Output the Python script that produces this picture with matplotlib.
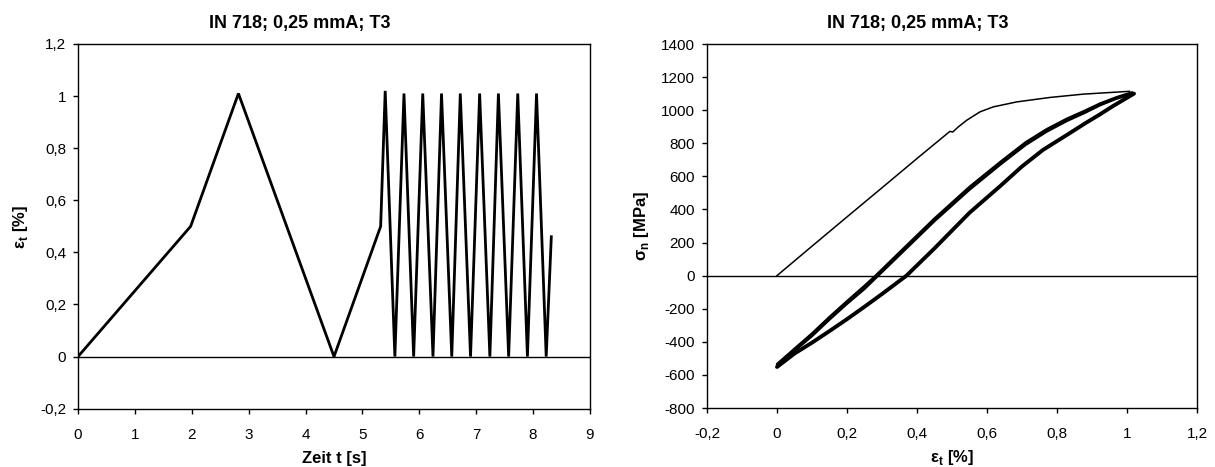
import matplotlib
matplotlib.use("Agg")
import matplotlib.pyplot as plt
from matplotlib.ticker import FuncFormatter

plt.rcParams['font.family'] = ['Liberation Sans', 'DejaVu Sans']
plt.rcParams['mathtext.fontset'] = 'custom'
plt.rcParams['mathtext.bf'] = 'Liberation Sans:bold'
plt.rcParams['mathtext.rm'] = 'Liberation Sans'

# ---------------- data: left chart (strain over time) ----------------
time_s = [0.0, 1.98, 2.82, 4.50, 5.32, 5.40, 5.57, 5.73, 5.90, 6.06, 6.24,
          6.39, 6.57, 6.72, 6.90, 7.06, 7.24, 7.39, 7.57, 7.73, 7.90, 8.06,
          8.23, 8.32]
strain_t = [0.0, 0.50, 1.01, 0.0, 0.50, 1.02, 0.0, 1.01, 0.0, 1.01, 0.0,
            1.01, 0.0, 1.01, 0.0, 1.01, 0.0, 1.01, 0.0, 1.01, 0.0, 1.01,
            0.0, 0.46]

# ---------------- data: right chart (stress-strain) ----------------
load_strain = [0.0, 0.10, 0.20, 0.30, 0.40, 0.494, 0.502, 0.518, 0.542, 0.58,
               0.618, 0.685, 0.78, 0.875, 1.007]
load_stress = [0, 178, 355, 531, 708, 872, 868, 899, 939, 990,
               1020, 1050, 1077, 1097, 1114]

unload_strain = [1.02, 0.96, 0.923, 0.88, 0.828, 0.76, 0.70, 0.637, 0.55,
                 0.45, 0.37, 0.30, 0.25, 0.20, 0.15, 0.10, 0.05, 0.0]
unload_stress = [1100, 1025, 975, 920, 850, 760, 660, 540, 380,
                 165, 0, -111, -188, -263, -335, -405, -471, -552]

reload_strain = [0.0, 0.05, 0.10, 0.15, 0.20, 0.25, 0.289, 0.35, 0.45,
                 0.55, 0.637, 0.71, 0.77, 0.828, 0.88, 0.923, 0.97, 1.02]
reload_stress = [-545, -455, -365, -265, -170, -80, 0, 125, 330,
                 520, 670, 790, 870, 935, 985, 1030, 1070, 1100]

reload2_strain = [0.0, 0.05, 0.10, 0.15, 0.20, 0.25, 0.282, 0.35, 0.45,
                  0.55, 0.637, 0.71, 0.77, 0.828, 0.88, 0.923, 0.97, 1.015]
reload2_stress = [-535, -442, -350, -250, -155, -62, 0, 140, 345,
                  536, 685, 805, 884, 948, 997, 1040, 1078, 1108]

left_xticks = [0, 1, 2, 3, 4, 5, 6, 7, 8, 9]
left_yticks = [-0.2, 0, 0.2, 0.4, 0.6, 0.8, 1.0, 1.2]
right_xticks = [-0.2, 0, 0.2, 0.4, 0.6, 0.8, 1.0, 1.2]
right_yticks = [-800, -600, -400, -200, 0, 200, 400, 600, 800, 1000, 1200, 1400]

title = "IN 718; 0,25 mmA; T3"
left_xlabel = "Zeit t [s]"
left_ylabel = r"ε$_{\mathbf{t}}$ [%]"
right_xlabel = r"ε$_{\mathbf{t}}$ [%]"
right_ylabel = r"σ$_{\mathbf{n}}$ [MPa]"


def comma(v, pos):
    if abs(v - round(v)) < 1e-9:
        s = "%d" % round(v)
    else:
        s = ("%.1f" % v)
    if s in ("-0", "-0.0"):
        s = "0"
    return s.replace('.', ',')


W, H = 1215, 467
fig = plt.figure(figsize=(W / 100, H / 100), dpi=100)


def px_axes(l, t, r, b):
    return fig.add_axes([l / W, 1 - b / H, (r - l) / W, (b - t) / H])


ax1 = px_axes(78, 44, 590, 408.7)
ax2 = px_axes(707, 44, 1197, 408)

for ax in (ax1, ax2):
    for sp in ax.spines.values():
        sp.set_linewidth(1.0)
        sp.set_color('black')
    ax.tick_params(direction='out', length=3.6, width=1, labelsize=11,
                   colors='black')
    ax.tick_params(axis='x', pad=10)
    ax.tick_params(axis='y', pad=5)
    ax.xaxis.set_major_formatter(FuncFormatter(comma))
    ax.yaxis.set_major_formatter(FuncFormatter(comma))
    ax.axhline(0, color='black', lw=1.0, zorder=1)

# titles and axis labels at measured pixel positions
fig.text(300 / W, 1 - 28 / H, title, ha='center', va='baseline',
         fontsize=13, fontweight='bold')
fig.text(918 / W, 1 - 28 / H, title, ha='center', va='baseline',
         fontsize=13, fontweight='bold')
fig.text(334 / W, 1 - 463 / H, left_xlabel, ha='center', va='baseline',
         fontsize=12, fontweight='bold')
fig.text(952 / W, 1 - 462 / H, right_xlabel, ha='center', va='baseline',
         fontsize=12, fontweight='bold')
fig.text(20 / W, 1 - 226.5 / H, left_ylabel, ha='center', va='center',
         rotation=90, fontsize=12, fontweight='bold')
fig.text(642 / W, 1 - 226 / H, right_ylabel, ha='center', va='center',
         rotation=90, fontsize=12, fontweight='bold')

# left
ax1.plot(time_s, strain_t, color='black', lw=2.0, solid_joinstyle='miter', zorder=3)
ax1.set_xlim(0, 9)
ax1.set_ylim(-0.2, 1.2)
ax1.set_xticks(left_xticks)
ax1.set_yticks(left_yticks)

# right
ax2.plot(load_strain, load_stress, color='black', lw=1.1, zorder=3)
ax2.plot(unload_strain, unload_stress, color='black', lw=2.8, zorder=3,
         solid_capstyle='round')
ax2.plot(reload_strain, reload_stress, color='black', lw=1.8, zorder=3,
         solid_capstyle='round')
ax2.plot(reload2_strain, reload2_stress, color='black', lw=1.8, zorder=3,
         solid_capstyle='round')
ax2.set_xlim(-0.2, 1.2)
ax2.set_ylim(-800, 1400)
ax2.set_xticks(right_xticks)
ax2.set_yticks(right_yticks)

fig.savefig("out.png", dpi=100)
